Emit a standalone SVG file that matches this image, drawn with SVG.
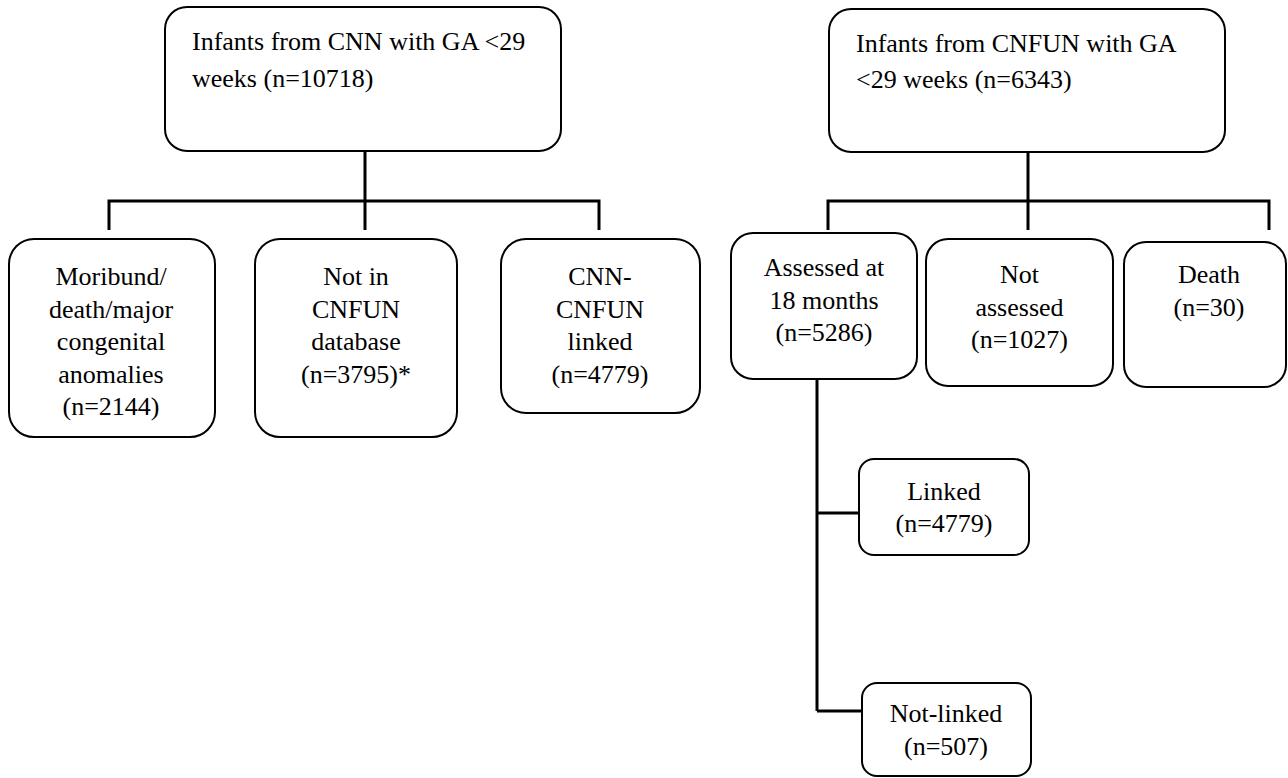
<svg xmlns="http://www.w3.org/2000/svg" width="1288" height="778" viewBox="0 0 1288 778">
<style>
.box{fill:#fff;stroke:#000;stroke-width:2}
.c{fill:none;stroke:#000;stroke-width:3}
text{font-family:"Liberation Serif","Times New Roman",serif;font-size:26px;fill:#000}
.m{text-anchor:middle}
</style>
<rect width="1288" height="778" fill="#fff"/>
<g id="connectors">
<path class="c" d="M365 151V201M109 230V201H599V230M365 201V230"/>
<path class="c" d="M1028 152V201M828 230V201H1269V230M1028 201V230"/>
<path class="c" d="M817 379V711M817 513H859M817 711H862"/>
</g>
<g id="cnn">
<rect class="box" x="165" y="7" width="396" height="144" rx="22"/>
<text x="192" y="50">Infants from CNN with GA &lt;29</text>
<text x="192" y="87">weeks (n=10718)</text>
</g>
<g id="moribund">
<rect class="box" x="9" y="239" width="206" height="198" rx="25"/>
<text class="m" x="111" y="285">Moribund/</text>
<text class="m" x="111" y="317.5">death/major</text>
<text class="m" x="111" y="350">congenital</text>
<text class="m" x="111" y="382.5">anomalies</text>
<text class="m" x="111" y="415">(n=2144)</text>
</g>
<g id="notincnfun">
<rect class="box" x="255" y="239" width="202" height="198" rx="25"/>
<text class="m" x="356" y="285">Not in</text>
<text class="m" x="356" y="317.5">CNFUN</text>
<text class="m" x="356" y="350">database</text>
<text class="m" x="356" y="382.5">(n=3795)*</text>
</g>
<g id="linkedcnn">
<rect class="box" x="501" y="239" width="199" height="174" rx="25"/>
<text class="m" x="600" y="285">CNN-</text>
<text class="m" x="600" y="317.5">CNFUN</text>
<text class="m" x="600" y="350">linked</text>
<text class="m" x="600" y="382.5">(n=4779)</text>
</g>
<g id="cnfun">
<rect class="box" x="829" y="9" width="396" height="143" rx="22"/>
<text x="856" y="52">Infants from CNFUN with GA</text>
<text x="856" y="88">&lt;29 weeks (n=6343)</text>
</g>
<g id="assessed">
<rect class="box" x="731" y="233" width="186" height="146" rx="22"/>
<text class="m" x="824" y="276">Assessed at</text>
<text class="m" x="824" y="308.5">18 months</text>
<text class="m" x="824" y="341">(n=5286)</text>
</g>
<g id="notassessed">
<rect class="box" x="926" y="239" width="187" height="147" rx="22"/>
<text class="m" x="1019.5" y="283">Not</text>
<text class="m" x="1019.5" y="315.5">assessed</text>
<text class="m" x="1019.5" y="348">(n=1027)</text>
</g>
<g id="death">
<rect class="box" x="1124" y="242" width="162" height="145" rx="22"/>
<text class="m" x="1209" y="283">Death</text>
<text class="m" x="1209" y="315.5">(n=30)</text>
</g>
<g id="linked">
<rect class="box" x="859" y="459" width="170" height="96" rx="15"/>
<text class="m" x="944" y="500">Linked</text>
<text class="m" x="944" y="532">(n=4779)</text>
</g>
<g id="notlinked">
<rect class="box" x="862" y="683" width="169" height="93" rx="15"/>
<text class="m" x="946" y="722">Not-linked</text>
<text class="m" x="946" y="755">(n=507)</text>
</g>
</svg>
